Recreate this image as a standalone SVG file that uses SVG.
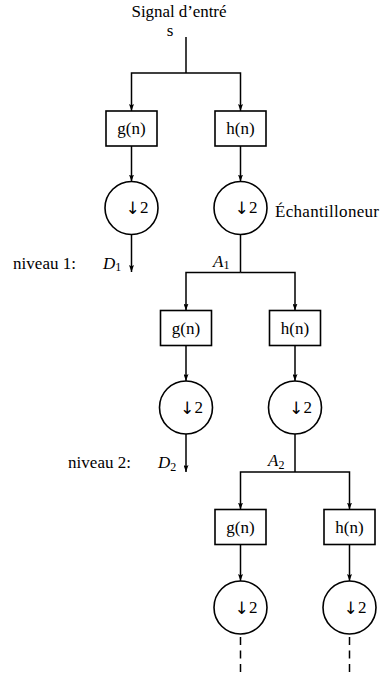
<svg xmlns="http://www.w3.org/2000/svg" width="381" height="677" viewBox="0 0 381 677" font-family="'Liberation Serif', 'DejaVu Serif', serif">
<style>
  text { font-family: "Liberation Serif", "DejaVu Serif", serif; font-size: 17px; fill: #000; }
  .it { font-style: italic; }
  .sub { font-size: 12px; font-style: normal; }
  .box { fill: #fff; stroke: #000; stroke-width: 1.6; }
  .circ { fill: #fff; stroke: #000; stroke-width: 1.6; }
  .conn { fill: none; stroke: #000; stroke-width: 1.5; }
  .arr { marker-end: url(#ah); }
  .dash { fill: none; stroke: #000; stroke-width: 1.5; stroke-dasharray: 8 5.5; }
  .lbl { text-anchor: middle; }
  .da { font-family: "DejaVu Sans", sans-serif; font-size: 17px; text-anchor: middle; }
</style>
<defs>
  <marker id="ah" viewBox="0 0 7 5" refX="7" refY="2.5" markerWidth="7" markerHeight="5" markerUnits="userSpaceOnUse" orient="auto">
    <path d="M0,0 Q2,2.5 0,5 L7,2.5 Z" fill="#000"/>
  </marker>
</defs>

<g id="connectors">
  <path class="conn" d="M186 37 V73"/>
  <path class="conn arr" d="M186 73 H131.5 V111"/>
  <path class="conn arr" d="M186 73 H240.5 V111"/>
  <path class="conn arr" d="M131.5 146 V181.5"/>
  <path class="conn arr" d="M240.5 146 V181.5"/>
  <path class="conn arr" d="M131.5 234.5 V272"/>
  <path class="conn" d="M240.5 234.5 V272.5"/>
  <path class="conn arr" d="M240.5 272.5 H186 V310.5"/>
  <path class="conn arr" d="M240.5 272.5 H295 V310.5"/>
  <path class="conn arr" d="M186 345.5 V381"/>
  <path class="conn arr" d="M295 345.5 V381"/>
  <path class="conn arr" d="M186 434 V472"/>
  <path class="conn" d="M295 434 V472"/>
  <path class="conn arr" d="M295 472 H240.5 V509.5"/>
  <path class="conn arr" d="M295 472 H349.5 V509.5"/>
  <path class="conn arr" d="M240.5 544.5 V581"/>
  <path class="conn arr" d="M349.5 544.5 V581"/>
  <path class="dash" d="M240.5 637 V674"/>
  <path class="dash" d="M349.5 637 V674"/>
</g>

<g id="input">
  <text class="lbl" x="179" y="17" textLength="95">Signal d’entré</text>
  <text class="lbl" x="170" y="36">s</text>
</g>

<g id="g0">
  <rect class="box" x="106" y="111" width="51" height="35"/>
  <text class="lbl" x="131.5" y="134">g(n)</text>
</g>
<g id="h0">
  <rect class="box" x="215" y="111" width="51" height="35"/>
  <text class="lbl" x="240.5" y="134">h(n)</text>
</g>
<g id="dg0">
  <circle class="circ" cx="131.5" cy="208" r="26.5"/>
  <text class="da" x="132.5" y="214">↓</text>
  <text x="140" y="213">2</text>
</g>
<g id="dh0">
  <circle class="circ" cx="240.5" cy="208" r="26.5"/>
  <text class="da" x="241.5" y="214">↓</text>
  <text x="249" y="213">2</text>
</g>
<g id="echantillonneur">
  <text x="275" y="217" textLength="104">Échantilloneur</text>
</g>
<g id="niveau1">
  <text x="13" y="268.5" textLength="63">niveau 1:</text>
  <text class="it" x="103" y="268.5">D<tspan class="sub" dy="2.5">1</tspan></text>
  <text class="it" x="213" y="266.5">A<tspan class="sub" dy="2.5">1</tspan></text>
</g>

<g id="g1">
  <rect class="box" x="160.5" y="310.5" width="51" height="35"/>
  <text class="lbl" x="186" y="333.5">g(n)</text>
</g>
<g id="h1">
  <rect class="box" x="269.5" y="310.5" width="51" height="35"/>
  <text class="lbl" x="295" y="333.5">h(n)</text>
</g>
<g id="dg1">
  <circle class="circ" cx="186" cy="407.5" r="26.5"/>
  <text class="da" x="187" y="413.5">↓</text>
  <text x="194.5" y="412.5">2</text>
</g>
<g id="dh1">
  <circle class="circ" cx="295" cy="407.5" r="26.5"/>
  <text class="da" x="296" y="413.5">↓</text>
  <text x="303.5" y="412.5">2</text>
</g>
<g id="niveau2">
  <text x="68" y="468" textLength="63">niveau 2:</text>
  <text class="it" x="158" y="468">D<tspan class="sub" dy="2.5">2</tspan></text>
  <text class="it" x="268" y="466">A<tspan class="sub" dy="2.5">2</tspan></text>
</g>

<g id="g2">
  <rect class="box" x="215" y="509.5" width="51" height="35"/>
  <text class="lbl" x="240.5" y="532.5">g(n)</text>
</g>
<g id="h2">
  <rect class="box" x="324" y="509.5" width="51" height="35"/>
  <text class="lbl" x="349.5" y="532.5">h(n)</text>
</g>
<g id="dg2">
  <circle class="circ" cx="240.5" cy="607.5" r="26.5"/>
  <text class="da" x="241.5" y="613.5">↓</text>
  <text x="249" y="612.5">2</text>
</g>
<g id="dh2">
  <circle class="circ" cx="349.5" cy="607.5" r="26.5"/>
  <text class="da" x="350.5" y="613.5">↓</text>
  <text x="358" y="612.5">2</text>
</g>
</svg>
